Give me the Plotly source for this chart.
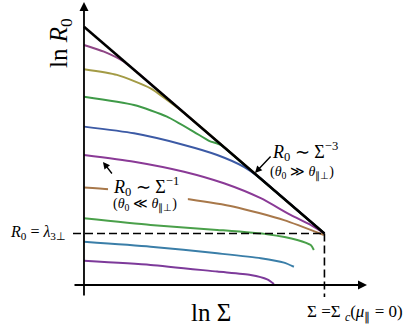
import plotly.graph_objects as go

# data (x = ln Sigma, Sigma_c at 10; y = ln R0, lambda_3perp at 2)
x_env = [0, 10]
y_env = [10.03, 2.0]

x_p1 = [0, 0.83, 1.66, 2.29, 3.0, 10]
y_p1 = [9.32, 9.06, 8.67, 8.2, 7.62, 2.0]

x_ol = [0, 1.37, 2.77, 3.74, 4.2, 4.8, 10]
y_ol = [8.38, 8.16, 7.64, 6.99, 6.66, 6.18, 2.0]

x_g1 = [0, 2.08, 3.45, 4.57, 5.2, 5.7, 6.5, 10]
y_g1 = [7.31, 6.99, 6.54, 5.95, 5.6, 5.43, 4.8, 2.0]

x_b1 = [0, 2.08, 4.16, 5.54, 6.65, 7.3, 8.0, 10]
y_b1 = [6.15, 5.89, 5.44, 5.05, 4.59, 4.17, 3.61, 2.0]

x_p2 = [0, 2.08, 4.16, 5.82, 7.35, 8.59, 9.43, 10]
y_p2 = [5.05, 4.79, 4.40, 3.95, 3.37, 2.72, 2.33, 2.0]

x_br = [0, 1.04, 4.37, 6.24, 8.32, 9.98]
y_br = [3.79, 3.72, 3.33, 3.04, 2.52, 1.94]

x_g2 = [0, 2.77, 5.54, 7.62, 8.87, 9.43, 9.56]
y_g2 = [2.59, 2.33, 2.14, 1.97, 1.75, 1.55, 1.36]

x_b2 = [0, 2.77, 5.54, 7.35, 8.32, 8.73]
y_b2 = [1.68, 1.49, 1.23, 1.04, 0.87, 0.71]

x_p3 = [0, 2.77, 5.54, 6.93, 7.62, 7.9]
y_p3 = [0.94, 0.78, 0.52, 0.39, 0.22, 0.04]

curves = [
    (x_p1, y_p1, '#8e4585'),
    (x_ol, y_ol, '#a39b45'),
    (x_g1, y_g1, '#3f9a48'),
    (x_b1, y_b1, '#3c5aa5'),
    (x_p2, y_p2, '#8a3a96'),
    (x_br, y_br, '#a8784a'),
    (x_g2, y_g2, '#4aa04a'),
    (x_b2, y_b2, '#3a7ea8'),
    (x_p3, y_p3, '#7d3a9a'),
]

x_crit = 10
y_lam = 2.0
x_lo, x_hi = -0.457, 11.77
y_lo, y_hi = -0.466, 10.99

SERIF = 'Liberation Serif'

fig = go.Figure()
for xs, ys, c in curves:
    fig.add_trace(go.Scatter(x=xs, y=ys, mode='lines',
                             line=dict(color=c, width=2, shape='spline', smoothing=0.6),
                             hoverinfo='skip'))
fig.add_trace(go.Scatter(x=x_env, y=y_env, mode='lines',
                         line=dict(color='black', width=2.5), hoverinfo='skip'))

# dashed guides
fig.add_shape(type='line', x0=x_lo, x1=x_crit, y0=y_lam, y1=y_lam,
              line=dict(color='black', width=1.6, dash='8px,4px'))
fig.add_shape(type='line', x0=x_crit, x1=x_crit, y0=y_lam, y1=y_lo,
              line=dict(color='black', width=1.6, dash='8px,4px'))
# white box behind the left label
fig.add_shape(type='rect', x0=1.0, x1=4.32, y0=2.8, y1=4.2, layer='above',
              fillcolor='white', line=dict(width=0))

# axes with arrowheads
fig.add_annotation(x=x_hi, y=0, ax=x_lo, ay=0, axref='x', ayref='y', text='',
                   showarrow=True, arrowhead=2, arrowsize=1, arrowwidth=1.8, arrowcolor='black',
                   standoff=0, startstandoff=0)
fig.add_annotation(x=0, y=y_hi, ax=0, ay=y_lo, axref='x', ayref='y', text='',
                   showarrow=True, arrowhead=2, arrowsize=1, arrowwidth=1.8, arrowcolor='black',
                   standoff=0, startstandoff=0)

# labels
fig.add_annotation(xref='paper', yref='paper', x=-0.044, y=0.861, textangle=-90,
                   xanchor='center', yanchor='middle',
                   text='ln <i>R</i><sub>0</sub>', showarrow=False,
                   font=dict(family=SERIF, size=25, color='black'))
fig.add_annotation(xref='paper', yref='paper', x=0.469, y=-0.051,
                   xanchor='center', yanchor='middle',
                   text='ln Σ', showarrow=False,
                   font=dict(family=SERIF, size=25, color='black'))
fig.add_annotation(xref='paper', yref='paper', x=-0.017, y=0.22, xanchor='right',
                   yanchor='middle',
                   text='<i>R</i><sub>0</sub> = <i>λ</i><sub>3⊥</sub>', showarrow=False,
                   font=dict(family=SERIF, size=16, color='black'))
fig.add_annotation(xref='paper', yref='paper', x=0.959, y=-0.054,
                   xanchor='center', yanchor='middle',
                   text='Σ =Σ <sub><i>c</i></sub>(<i>μ</i><sub>∥</sub> = 0)', showarrow=False,
                   font=dict(family=SERIF, size=17, color='black'))

fig.add_annotation(x=7.73, y=5.17, xanchor='left',
                   text='<i>R</i><sub>0</sub> ∼ Σ<sup>−3</sup>', showarrow=False,
                   font=dict(family=SERIF, size=18, color='black'))
fig.add_annotation(x=7.65, y=4.35, xanchor='left',
                   text='(<i>θ</i><sub>0</sub> ≫ <i>θ</i><sub>∥⊥</sub>)', showarrow=False,
                   font=dict(family=SERIF, size=14, color='black'))
fig.add_annotation(x=7.11, y=4.35, ax=7.82, ay=5.05, axref='x', ayref='y', text='',
                   showarrow=True, arrowhead=2, arrowsize=1, arrowwidth=1.4, arrowcolor='black')

fig.add_annotation(x=2.58, y=3.81,
                   text='<i>R</i><sub>0</sub> ∼ Σ<sup>−1</sup>', showarrow=False,
                   font=dict(family=SERIF, size=18, color='black'))
fig.add_annotation(x=2.54, y=3.11,
                   text='(<i>θ</i><sub>0</sub> ≪ <i>θ</i><sub>∥⊥</sub>)', showarrow=False,
                   font=dict(family=SERIF, size=14, color='black'))
fig.add_annotation(x=0.79, y=4.78, ax=1.21, ay=4.27, axref='x', ayref='y', text='',
                   showarrow=True, arrowhead=2, arrowsize=1, arrowwidth=1.4, arrowcolor='black')

fig.update_layout(
    width=415, height=325,
    margin=dict(l=73, r=48, t=2, b=28),
    paper_bgcolor='white', plot_bgcolor='white',
    showlegend=False,
    xaxis=dict(range=[x_lo, x_hi], visible=False, fixedrange=True),
    yaxis=dict(range=[y_lo, y_hi], visible=False, fixedrange=True),
)

fig.write_html('out.html', config={'displayModeBar': False},
               post_script="document.body.style.margin='0';")
